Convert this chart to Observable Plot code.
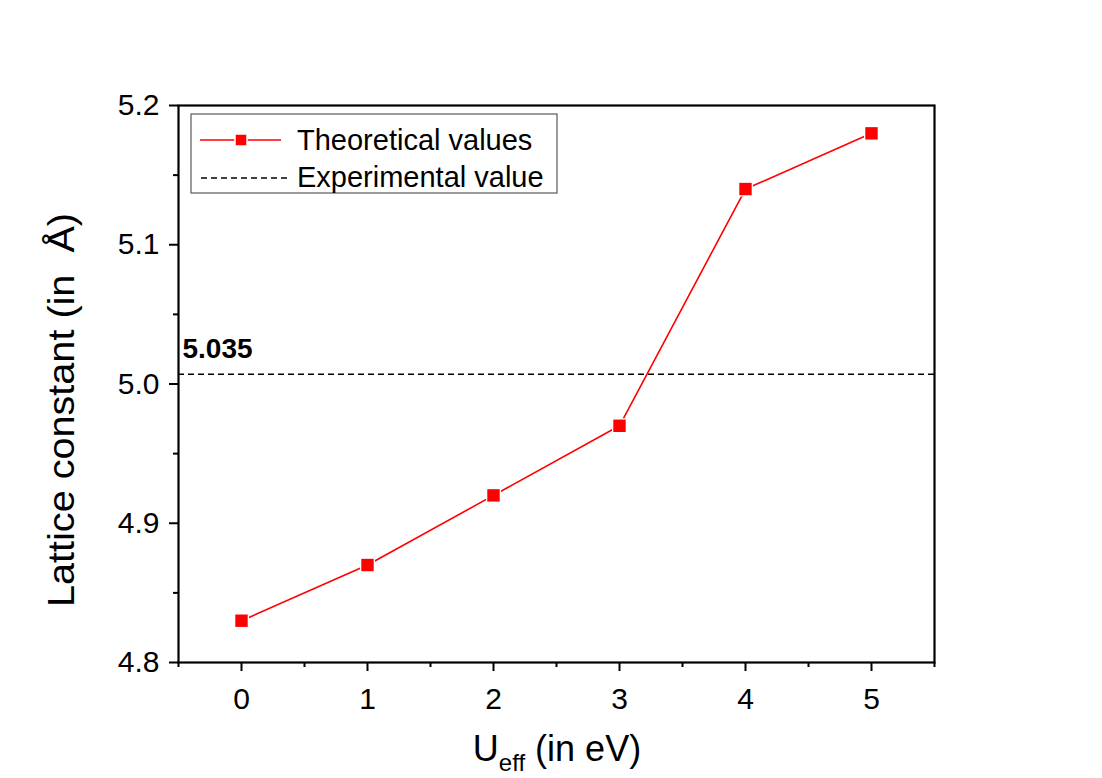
<!DOCTYPE html>
<html>
<head>
<meta charset="utf-8">
<script src="https://cdn.jsdelivr.net/npm/d3@7"></script>
<script src="https://cdn.jsdelivr.net/npm/@observablehq/plot@0.6"></script>
<style>
  html, body { margin: 0; padding: 0; background: #ffffff; }
  #chart { width: 1102px; height: 778px; }
  svg { font-family: "Liberation Sans", Arial, sans-serif; }
</style>
</head>
<body>
<div id="chart"></div>
<script>
// ---- data ----
const uEff = [0, 1, 2, 3, 4, 5];
const latticeConstant = [4.83, 4.87, 4.92, 4.97, 5.14, 5.18];
const experimentalValue = 5.007;
const experimentalLabel = "5.035";
const xTicks = [0, 1, 2, 3, 4, 5];
const xMinorTicks = [-0.5, 0.5, 1.5, 2.5, 3.5, 4.5, 5.5];
const yTicks = [4.8, 4.9, 5.0, 5.1, 5.2];
const yMinorTicks = [4.85, 4.95, 5.05, 5.15];
const seriesNames = ["Theoretical values", "Experimental value"];

const rows = uEff.map((u, i) => ({u, a: latticeConstant[i]}));

const W = 1102, H = 778;
const plot = Plot.plot({
  width: W,
  height: H,
  marginLeft: 178,
  marginRight: 168,
  marginTop: 105,
  marginBottom: 116,
  style: {fontFamily: "Liberation Sans, Arial, sans-serif", fontSize: "30px", background: "#ffffff", color: "#000"},
  x: {domain: [-0.5, 5.5]},
  y: {domain: [4.8, 5.2]},
  marks: [
    Plot.axisY({ticks: yTicks, tickFormat: d => d.toFixed(1), tickSize: 9, tickPadding: 10, fontSize: 30, strokeWidth: 2, label: null}),
    Plot.axisY({ticks: yMinorTicks, tickSize: 5, strokeWidth: 2, text: null, label: null}),
    Plot.axisX({ticks: xTicks, tickFormat: d => String(d), tickSize: 9, tickPadding: 16, fontSize: 30, strokeWidth: 2, label: null}),
    Plot.axisX({ticks: xMinorTicks, tickSize: 5, strokeWidth: 2, text: null, label: null}),
    Plot.ruleY([experimentalValue], {stroke: "#000", strokeWidth: 1.3, strokeDasharray: "6,4"}),
    Plot.text([experimentalValue], {x: -0.5, y: d => d, text: () => experimentalLabel, textAnchor: "start", dx: 4, dy: -25, fontSize: 28, fontWeight: "bold", fill: "#000"}),
    Plot.line(rows, {x: "u", y: "a", stroke: "#ff0000", strokeWidth: 1.6}),
    Plot.dot(rows, {x: "u", y: "a", symbol: "square", r: 7, fill: "#ff0000", stroke: "#ffffff", strokeWidth: 2.5}),
    Plot.dot(rows, {x: "u", y: "a", symbol: "square", r: 7, fill: "#ff0000"}),
    Plot.frame({stroke: "#000", strokeWidth: 2.2})
  ]
});
document.getElementById("chart").appendChild(plot);

const svg = d3.select(plot);
// enlarge tick labels
svg.selectAll('g[aria-label*="tick label"]').attr("font-size", 30).style("font-size", "30px");
svg.selectAll('g[aria-label*="tick label"] text').style("font-size", "30px");

// axis titles
svg.append("text")
  .attr("transform", "translate(74,410) rotate(-90)")
  .attr("text-anchor", "middle")
  .attr("font-size", 36)
  .attr("fill", "#000")
  .attr("textLength", 394)
  .attr("lengthAdjust", "spacingAndGlyphs")
  .text("Lattice constant (in  Å)");

const xl = svg.append("text")
  .attr("x", 557).attr("y", 761)
  .attr("text-anchor", "middle")
  .attr("font-size", 36)
  .attr("fill", "#000");
xl.append("tspan").text("U");
xl.append("tspan").attr("font-size", 24).attr("dy", 10).text("eff");
xl.append("tspan").attr("dy", -10).text(" (in eV)");

// legend
const lg = svg.append("g");
lg.append("rect").attr("x", 191).attr("y", 114).attr("width", 366).attr("height", 79)
  .attr("fill", "#fff").attr("stroke", "#666").attr("stroke-width", 1.3);
lg.append("line").attr("x1", 200).attr("x2", 281).attr("y1", 140).attr("y2", 140)
  .attr("stroke", "#ff0000").attr("stroke-width", 1.6);
lg.append("rect").attr("x", 235).attr("y", 134).attr("width", 12).attr("height", 12)
  .attr("fill", "#ff0000").attr("stroke", "#fff").attr("stroke-width", 1.5);
lg.append("line").attr("x1", 201).attr("x2", 288).attr("y1", 178).attr("y2", 178)
  .attr("stroke", "#000").attr("stroke-width", 1.3).attr("stroke-dasharray", "6,4");
lg.selectAll("text.leg").data(seriesNames).join("text")
  .attr("class", "leg")
  .attr("x", 297)
  .attr("y", (d, i) => 150 + i * 37)
  .attr("text-anchor", "start")
  .attr("font-size", 29)
  .attr("fill", "#000")
  .text(d => d);
</script>
</body>
</html>
